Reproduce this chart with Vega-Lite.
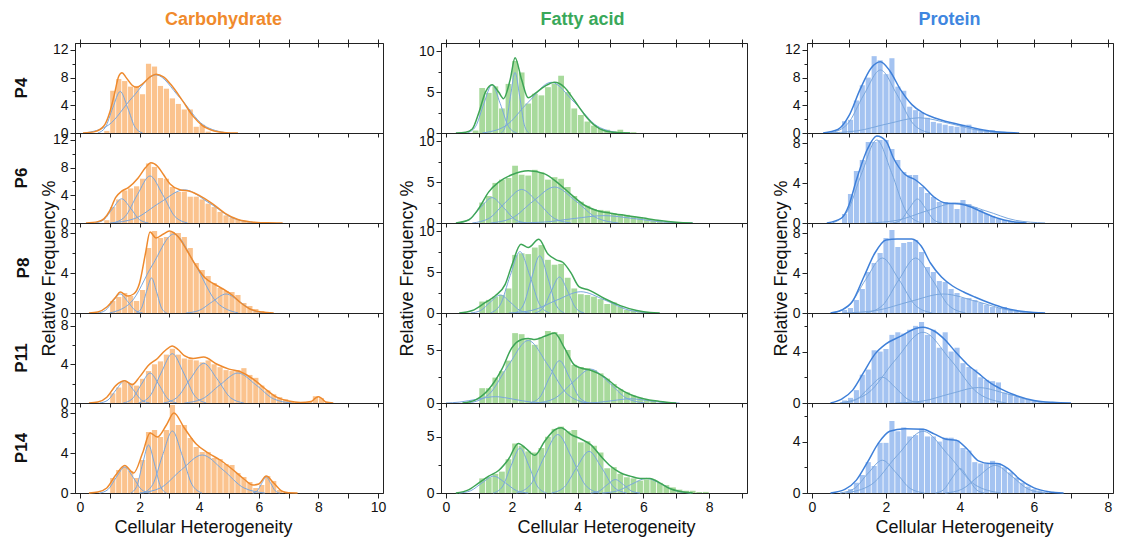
{
"$schema":"https://vega.github.io/schema/vega-lite/v6.json",
"background":"white",
"padding":{"left":12,"top":10,"right":0,"bottom":0},
"autosize":{"type":"pad"},
"columns":3,
"spacing":{"row":0,"column":58},
"bounds":"flush",
"align":"all",
"datasets":{
"C4":[{"k":"b","x":0.9,"y":0.3},{"k":"b","x":1.1,"y":6.1},{"k":"b","x":1.3,"y":7.8},{"k":"b","x":1.5,"y":7.5},{"k":"b","x":1.7,"y":6.7},{"k":"b","x":1.9,"y":6.8},{"k":"b","x":2.1,"y":5.6},{"k":"b","x":2.3,"y":10.0},{"k":"b","x":2.5,"y":9.6},{"k":"b","x":2.7,"y":6.8},{"k":"b","x":2.9,"y":6.4},{"k":"b","x":3.1,"y":5.0},{"k":"b","x":3.3,"y":4.2},{"k":"b","x":3.5,"y":3.4},{"k":"b","x":3.7,"y":3.4},{"k":"b","x":3.9,"y":0.9},{"k":"b","x":4.1,"y":1.2},{"k":"b","x":4.3,"y":0.2},
{"k":"f","x":0.1,"y":0},{"k":"f","x":0.5,"y":0.2},{"k":"f","x":0.8,"y":1.0},{"k":"f","x":1.0,"y":3.0},{"k":"f","x":1.15,"y":5.5},{"k":"f","x":1.3,"y":8.2},{"k":"f","x":1.41,"y":8.7},{"k":"f","x":1.55,"y":8.0},{"k":"f","x":1.75,"y":6.9},{"k":"f","x":1.9,"y":6.6},{"k":"f","x":2.1,"y":7.1},{"k":"f","x":2.35,"y":8.1},{"k":"f","x":2.55,"y":8.5},{"k":"f","x":2.8,"y":8.1},{"k":"f","x":3.05,"y":7.0},{"k":"f","x":3.45,"y":4.6},{"k":"f","x":3.8,"y":2.4},{"k":"f","x":4.1,"y":1.1},{"k":"f","x":4.5,"y":0.3},{"k":"f","x":4.9,"y":0.05},{"k":"f","x":5.3,"y":0},
{"k":"c1","x":0.6,"y":0},{"k":"c1","x":0.85,"y":0.81},{"k":"c1","x":1.1,"y":3.64},{"k":"c1","x":1.35,"y":6},{"k":"c1","x":1.6,"y":3.64},{"k":"c1","x":1.85,"y":0.81},{"k":"c1","x":2.1,"y":0},
{"k":"c2","x":0.15,"y":0},{"k":"c2","x":0.95,"y":1.13},{"k":"c2","x":1.75,"y":5.1},{"k":"c2","x":2.55,"y":8.4},{"k":"c2","x":3.35,"y":5.1},{"k":"c2","x":4.15,"y":1.13},{"k":"c2","x":4.95,"y":0}],
"C6":[{"k":"b","x":0.9,"y":0.4},{"k":"b","x":1.1,"y":2.3},{"k":"b","x":1.3,"y":3.4},{"k":"b","x":1.5,"y":4.7},{"k":"b","x":1.7,"y":5.0},{"k":"b","x":1.9,"y":5.3},{"k":"b","x":2.1,"y":6.4},{"k":"b","x":2.3,"y":8.6},{"k":"b","x":2.5,"y":8.1},{"k":"b","x":2.7,"y":6.5},{"k":"b","x":2.9,"y":6.4},{"k":"b","x":3.1,"y":5.2},{"k":"b","x":3.3,"y":4.5},{"k":"b","x":3.5,"y":4.5},{"k":"b","x":3.7,"y":3.8},{"k":"b","x":3.9,"y":3.8},{"k":"b","x":4.1,"y":3.4},{"k":"b","x":4.3,"y":2.8},{"k":"b","x":4.5,"y":2.3},{"k":"b","x":4.7,"y":1.6},{"k":"b","x":4.9,"y":1.1},{"k":"b","x":5.1,"y":0.8},{"k":"b","x":5.3,"y":0.5},{"k":"b","x":5.5,"y":0.3},{"k":"b","x":5.7,"y":0.2},
{"k":"f","x":0.2,"y":0},{"k":"f","x":0.6,"y":0.2},{"k":"f","x":0.8,"y":0.6},{"k":"f","x":1.0,"y":1.8},{"k":"f","x":1.2,"y":3.7},{"k":"f","x":1.4,"y":4.6},{"k":"f","x":1.62,"y":5.1},{"k":"f","x":1.95,"y":6.5},{"k":"f","x":2.2,"y":8.0},{"k":"f","x":2.38,"y":8.7},{"k":"f","x":2.6,"y":8.2},{"k":"f","x":2.8,"y":7.0},{"k":"f","x":3.03,"y":5.6},{"k":"f","x":3.35,"y":4.8},{"k":"f","x":3.68,"y":4.6},{"k":"f","x":4.0,"y":4.0},{"k":"f","x":4.44,"y":2.8},{"k":"f","x":4.87,"y":1.4},{"k":"f","x":5.3,"y":0.5},{"k":"f","x":5.75,"y":0.15},{"k":"f","x":6.3,"y":0.02},{"k":"f","x":6.8,"y":0},
{"k":"c1","x":0.5,"y":0},{"k":"c1","x":0.8,"y":0.47},{"k":"c1","x":1.1,"y":2.12},{"k":"c1","x":1.4,"y":3.5},{"k":"c1","x":1.7,"y":2.12},{"k":"c1","x":2.0,"y":0.47},{"k":"c1","x":2.3,"y":0},
{"k":"c2","x":1.09,"y":0},{"k":"c2","x":1.51,"y":0.92},{"k":"c2","x":1.93,"y":4.13},{"k":"c2","x":2.35,"y":6.8},{"k":"c2","x":2.77,"y":4.13},{"k":"c2","x":3.19,"y":0.92},{"k":"c2","x":3.61,"y":0},
{"k":"c3","x":1.01,"y":0},{"k":"c3","x":1.84,"y":0.65},{"k":"c3","x":2.67,"y":2.91},{"k":"c3","x":3.5,"y":4.8},{"k":"c3","x":4.33,"y":2.91},{"k":"c3","x":5.16,"y":0.65},{"k":"c3","x":5.99,"y":0}],
"C8":[{"k":"b","x":1.1,"y":1.2},{"k":"b","x":1.3,"y":1.6},{"k":"b","x":1.5,"y":2.0},{"k":"b","x":1.7,"y":1.7},{"k":"b","x":1.9,"y":1.2},{"k":"b","x":2.1,"y":2.3},{"k":"b","x":2.3,"y":6.5},{"k":"b","x":2.5,"y":8.2},{"k":"b","x":2.7,"y":7.5},{"k":"b","x":2.9,"y":7.6},{"k":"b","x":3.1,"y":8.1},{"k":"b","x":3.3,"y":8.0},{"k":"b","x":3.5,"y":7.6},{"k":"b","x":3.7,"y":6.5},{"k":"b","x":3.9,"y":5.0},{"k":"b","x":4.1,"y":4.3},{"k":"b","x":4.3,"y":3.7},{"k":"b","x":4.5,"y":3.0},{"k":"b","x":4.7,"y":2.5},{"k":"b","x":4.9,"y":2.2},{"k":"b","x":5.1,"y":2.1},{"k":"b","x":5.3,"y":1.8},{"k":"b","x":5.5,"y":1.0},{"k":"b","x":5.7,"y":0.7},{"k":"b","x":5.9,"y":0.4},{"k":"b","x":6.1,"y":0.2},
{"k":"f","x":0.3,"y":0},{"k":"f","x":0.6,"y":0.1},{"k":"f","x":0.9,"y":0.6},{"k":"f","x":1.2,"y":1.6},{"k":"f","x":1.35,"y":2.1},{"k":"f","x":1.6,"y":1.7},{"k":"f","x":1.8,"y":1.9},{"k":"f","x":2.0,"y":3.0},{"k":"f","x":2.2,"y":6.0},{"k":"f","x":2.35,"y":8.1},{"k":"f","x":2.55,"y":7.5},{"k":"f","x":2.8,"y":7.9},{"k":"f","x":3.0,"y":8.2},{"k":"f","x":3.3,"y":7.6},{"k":"f","x":3.6,"y":6.2},{"k":"f","x":3.9,"y":4.7},{"k":"f","x":4.2,"y":3.5},{"k":"f","x":4.5,"y":2.9},{"k":"f","x":4.8,"y":2.4},{"k":"f","x":5.1,"y":1.8},{"k":"f","x":5.4,"y":1.0},{"k":"f","x":5.7,"y":0.4},{"k":"f","x":6.1,"y":0.1},{"k":"f","x":6.5,"y":0},
{"k":"c1","x":0.6,"y":0},{"k":"c1","x":0.85,"y":0.26},{"k":"c1","x":1.1,"y":1.15},{"k":"c1","x":1.35,"y":1.9},{"k":"c1","x":1.6,"y":1.15},{"k":"c1","x":1.85,"y":0.26},{"k":"c1","x":2.1,"y":0},
{"k":"c2","x":1.89,"y":0},{"k":"c2","x":2.06,"y":0.47},{"k":"c2","x":2.23,"y":2.12},{"k":"c2","x":2.4,"y":3.5},{"k":"c2","x":2.57,"y":2.12},{"k":"c2","x":2.74,"y":0.47},{"k":"c2","x":2.91,"y":0},
{"k":"c3","x":0.99,"y":0},{"k":"c3","x":1.71,"y":1.07},{"k":"c3","x":2.43,"y":4.8},{"k":"c3","x":3.15,"y":7.9},{"k":"c3","x":3.87,"y":4.8},{"k":"c3","x":4.59,"y":1.07},{"k":"c3","x":5.31,"y":0},
{"k":"c4","x":3.55,"y":0},{"k":"c4","x":4.0,"y":0.26},{"k":"c4","x":4.45,"y":1.15},{"k":"c4","x":4.9,"y":1.9},{"k":"c4","x":5.35,"y":1.15},{"k":"c4","x":5.8,"y":0.26},{"k":"c4","x":6.25,"y":0}],
"C11":[{"k":"b","x":1.1,"y":1.0},{"k":"b","x":1.3,"y":1.6},{"k":"b","x":1.5,"y":2.2},{"k":"b","x":1.7,"y":2.0},{"k":"b","x":1.9,"y":1.8},{"k":"b","x":2.1,"y":2.5},{"k":"b","x":2.3,"y":3.3},{"k":"b","x":2.5,"y":4.0},{"k":"b","x":2.7,"y":4.3},{"k":"b","x":2.9,"y":5.0},{"k":"b","x":3.1,"y":5.6},{"k":"b","x":3.3,"y":5.0},{"k":"b","x":3.5,"y":4.6},{"k":"b","x":3.7,"y":4.5},{"k":"b","x":3.9,"y":4.4},{"k":"b","x":4.1,"y":4.2},{"k":"b","x":4.3,"y":4.4},{"k":"b","x":4.5,"y":4.0},{"k":"b","x":4.7,"y":3.7},{"k":"b","x":4.9,"y":3.4},{"k":"b","x":5.1,"y":3.3},{"k":"b","x":5.3,"y":3.4},{"k":"b","x":5.5,"y":3.6},{"k":"b","x":5.7,"y":2.9},{"k":"b","x":5.9,"y":2.6},{"k":"b","x":6.1,"y":1.8},{"k":"b","x":6.3,"y":1.3},{"k":"b","x":6.5,"y":0.9},{"k":"b","x":6.7,"y":0.6},{"k":"b","x":6.9,"y":0.4},{"k":"b","x":7.1,"y":0.2},{"k":"b","x":7.3,"y":0.1},{"k":"b","x":7.5,"y":0.1},{"k":"b","x":7.7,"y":0.1},{"k":"b","x":7.9,"y":0.7},{"k":"b","x":8.1,"y":0.5},{"k":"b","x":8.3,"y":0.1},
{"k":"f","x":0.3,"y":0},{"k":"f","x":0.6,"y":0.1},{"k":"f","x":0.9,"y":0.6},{"k":"f","x":1.2,"y":1.8},{"k":"f","x":1.5,"y":2.3},{"k":"f","x":1.75,"y":1.9},{"k":"f","x":2.0,"y":2.7},{"k":"f","x":2.3,"y":3.9},{"k":"f","x":2.6,"y":4.6},{"k":"f","x":2.85,"y":5.4},{"k":"f","x":3.1,"y":5.9},{"k":"f","x":3.3,"y":5.5},{"k":"f","x":3.5,"y":4.9},{"k":"f","x":3.8,"y":4.6},{"k":"f","x":4.15,"y":4.75},{"k":"f","x":4.6,"y":4.0},{"k":"f","x":5.0,"y":3.5},{"k":"f","x":5.4,"y":3.2},{"k":"f","x":5.8,"y":2.5},{"k":"f","x":6.2,"y":1.5},{"k":"f","x":6.6,"y":0.6},{"k":"f","x":7.0,"y":0.2},{"k":"f","x":7.4,"y":0.05},{"k":"f","x":7.75,"y":0.15},{"k":"f","x":7.9,"y":0.5},{"k":"f","x":8.0,"y":0.65},{"k":"f","x":8.1,"y":0.5},{"k":"f","x":8.25,"y":0.1},{"k":"f","x":8.5,"y":0},
{"k":"c1","x":0.66,"y":0},{"k":"c1","x":0.94,"y":0.31},{"k":"c1","x":1.22,"y":1.4},{"k":"c1","x":1.5,"y":2.3},{"k":"c1","x":1.78,"y":1.4},{"k":"c1","x":2.06,"y":0.31},{"k":"c1","x":2.34,"y":0},
{"k":"c2","x":1.45,"y":0},{"k":"c2","x":1.75,"y":0.42},{"k":"c2","x":2.05,"y":1.88},{"k":"c2","x":2.35,"y":3.1},{"k":"c2","x":2.65,"y":1.88},{"k":"c2","x":2.95,"y":0.42},{"k":"c2","x":3.25,"y":0},
{"k":"c3","x":1.96,"y":0},{"k":"c3","x":2.34,"y":0.69},{"k":"c3","x":2.72,"y":3.1},{"k":"c3","x":3.1,"y":5.1},{"k":"c3","x":3.48,"y":3.1},{"k":"c3","x":3.86,"y":0.69},{"k":"c3","x":4.24,"y":0},
{"k":"c4","x":2.8,"y":0},{"k":"c4","x":3.25,"y":0.55},{"k":"c4","x":3.7,"y":2.49},{"k":"c4","x":4.15,"y":4.1},{"k":"c4","x":4.6,"y":2.49},{"k":"c4","x":5.05,"y":0.55},{"k":"c4","x":5.5,"y":0},
{"k":"c5","x":3.5,"y":0},{"k":"c5","x":4.1,"y":0.42},{"k":"c5","x":4.7,"y":1.88},{"k":"c5","x":5.3,"y":3.1},{"k":"c5","x":5.9,"y":1.88},{"k":"c5","x":6.5,"y":0.42},{"k":"c5","x":7.1,"y":0}],
"C14":[{"k":"b","x":1.1,"y":1.5},{"k":"b","x":1.3,"y":2.3},{"k":"b","x":1.5,"y":2.6},{"k":"b","x":1.7,"y":2.2},{"k":"b","x":1.9,"y":1.5},{"k":"b","x":2.1,"y":3.3},{"k":"b","x":2.3,"y":6.1},{"k":"b","x":2.5,"y":6.3},{"k":"b","x":2.7,"y":5.6},{"k":"b","x":2.9,"y":6.3},{"k":"b","x":3.1,"y":8.8},{"k":"b","x":3.3,"y":6.8},{"k":"b","x":3.5,"y":6.8},{"k":"b","x":3.7,"y":5.5},{"k":"b","x":3.9,"y":4.6},{"k":"b","x":4.1,"y":4.1},{"k":"b","x":4.3,"y":4.1},{"k":"b","x":4.5,"y":3.5},{"k":"b","x":4.7,"y":3.4},{"k":"b","x":4.9,"y":2.9},{"k":"b","x":5.1,"y":2.8},{"k":"b","x":5.3,"y":2.0},{"k":"b","x":5.5,"y":1.6},{"k":"b","x":5.7,"y":1.1},{"k":"b","x":5.9,"y":0.5},{"k":"b","x":6.1,"y":0.8},{"k":"b","x":6.3,"y":1.7},{"k":"b","x":6.5,"y":1.2},{"k":"b","x":6.7,"y":0.3},
{"k":"f","x":0.3,"y":0},{"k":"f","x":0.6,"y":0.1},{"k":"f","x":0.9,"y":0.5},{"k":"f","x":1.2,"y":1.8},{"k":"f","x":1.5,"y":2.75},{"k":"f","x":1.8,"y":2.0},{"k":"f","x":2.1,"y":4.0},{"k":"f","x":2.35,"y":6.0},{"k":"f","x":2.6,"y":5.6},{"k":"f","x":2.9,"y":6.8},{"k":"f","x":3.15,"y":8.0},{"k":"f","x":3.5,"y":6.5},{"k":"f","x":3.9,"y":4.9},{"k":"f","x":4.3,"y":4.0},{"k":"f","x":4.7,"y":3.3},{"k":"f","x":5.1,"y":2.4},{"k":"f","x":5.5,"y":1.4},{"k":"f","x":5.8,"y":0.8},{"k":"f","x":6.0,"y":0.9},{"k":"f","x":6.25,"y":1.7},{"k":"f","x":6.5,"y":1.0},{"k":"f","x":6.8,"y":0.15},{"k":"f","x":7.0,"y":0.02},{"k":"f","x":7.3,"y":0},
{"k":"c1","x":0.66,"y":0},{"k":"c1","x":0.94,"y":0.35},{"k":"c1","x":1.22,"y":1.58},{"k":"c1","x":1.5,"y":2.6},{"k":"c1","x":1.78,"y":1.58},{"k":"c1","x":2.06,"y":0.35},{"k":"c1","x":2.34,"y":0},
{"k":"c2","x":1.7,"y":0},{"k":"c2","x":1.9,"y":0.65},{"k":"c2","x":2.1,"y":2.91},{"k":"c2","x":2.3,"y":4.8},{"k":"c2","x":2.5,"y":2.91},{"k":"c2","x":2.7,"y":0.65},{"k":"c2","x":2.9,"y":0},
{"k":"c3","x":2.11,"y":0},{"k":"c3","x":2.44,"y":0.84},{"k":"c3","x":2.77,"y":3.76},{"k":"c3","x":3.1,"y":6.2},{"k":"c3","x":3.43,"y":3.76},{"k":"c3","x":3.76,"y":0.84},{"k":"c3","x":4.09,"y":0},
{"k":"c4","x":2.0,"y":0},{"k":"c4","x":2.7,"y":0.51},{"k":"c4","x":3.4,"y":2.31},{"k":"c4","x":4.1,"y":3.8},{"k":"c4","x":4.8,"y":2.31},{"k":"c4","x":5.5,"y":0.51},{"k":"c4","x":6.2,"y":0},
{"k":"c5","x":5.8,"y":0},{"k":"c5","x":5.95,"y":0.22},{"k":"c5","x":6.1,"y":0.97},{"k":"c5","x":6.25,"y":1.6},{"k":"c5","x":6.4,"y":0.97},{"k":"c5","x":6.55,"y":0.22},{"k":"c5","x":6.7,"y":0}],
"F4":[{"k":"b","x":0.9,"y":0.3},{"k":"b","x":1.1,"y":5.5},{"k":"b","x":1.3,"y":4.9},{"k":"b","x":1.5,"y":5.7},{"k":"b","x":1.7,"y":3.0},{"k":"b","x":1.9,"y":6.0},{"k":"b","x":2.1,"y":8.8},{"k":"b","x":2.3,"y":7.4},{"k":"b","x":2.5,"y":3.6},{"k":"b","x":2.7,"y":4.8},{"k":"b","x":2.9,"y":4.6},{"k":"b","x":3.1,"y":5.6},{"k":"b","x":3.3,"y":6.0},{"k":"b","x":3.5,"y":7.0},{"k":"b","x":3.7,"y":5.0},{"k":"b","x":3.9,"y":3.0},{"k":"b","x":4.1,"y":2.2},{"k":"b","x":4.3,"y":1.4},{"k":"b","x":4.5,"y":0.9},{"k":"b","x":4.7,"y":0.5},{"k":"b","x":4.9,"y":0.4},{"k":"b","x":5.1,"y":0.2},{"k":"b","x":5.3,"y":0.4},{"k":"b","x":5.5,"y":0.1},{"k":"b","x":5.7,"y":0.1},
{"k":"f","x":0.3,"y":0},{"k":"f","x":0.6,"y":0.1},{"k":"f","x":0.8,"y":0.5},{"k":"f","x":1.0,"y":2.5},{"k":"f","x":1.2,"y":5.0},{"k":"f","x":1.4,"y":5.9},{"k":"f","x":1.6,"y":5.0},{"k":"f","x":1.75,"y":4.2},{"k":"f","x":1.95,"y":6.5},{"k":"f","x":2.1,"y":9.2},{"k":"f","x":2.3,"y":6.5},{"k":"f","x":2.5,"y":4.3},{"k":"f","x":2.7,"y":4.8},{"k":"f","x":3.0,"y":5.7},{"k":"f","x":3.3,"y":6.2},{"k":"f","x":3.6,"y":5.6},{"k":"f","x":3.9,"y":4.0},{"k":"f","x":4.2,"y":2.3},{"k":"f","x":4.5,"y":1.0},{"k":"f","x":4.8,"y":0.3},{"k":"f","x":5.2,"y":0.05},{"k":"f","x":5.6,"y":0},
{"k":"c1","x":0.65,"y":0},{"k":"c1","x":0.9,"y":0.8},{"k":"c1","x":1.15,"y":3.58},{"k":"c1","x":1.4,"y":5.9},{"k":"c1","x":1.65,"y":3.58},{"k":"c1","x":1.9,"y":0.8},{"k":"c1","x":2.15,"y":0},
{"k":"c2","x":1.68,"y":0},{"k":"c2","x":1.82,"y":1.0},{"k":"c2","x":1.96,"y":4.49},{"k":"c2","x":2.1,"y":7.4},{"k":"c2","x":2.24,"y":4.49},{"k":"c2","x":2.38,"y":1.0},{"k":"c2","x":2.52,"y":0},
{"k":"c3","x":1.1,"y":0},{"k":"c3","x":1.8,"y":0.84},{"k":"c3","x":2.5,"y":3.76},{"k":"c3","x":3.2,"y":6.2},{"k":"c3","x":3.9,"y":3.76},{"k":"c3","x":4.6,"y":0.84},{"k":"c3","x":5.3,"y":0}],
"F6":[{"k":"b","x":1.1,"y":2.5},{"k":"b","x":1.3,"y":3.3},{"k":"b","x":1.5,"y":4.9},{"k":"b","x":1.7,"y":5.3},{"k":"b","x":1.9,"y":5.5},{"k":"b","x":2.1,"y":7.0},{"k":"b","x":2.3,"y":5.9},{"k":"b","x":2.5,"y":5.8},{"k":"b","x":2.7,"y":6.5},{"k":"b","x":2.9,"y":6.2},{"k":"b","x":3.1,"y":5.3},{"k":"b","x":3.3,"y":5.6},{"k":"b","x":3.5,"y":5.4},{"k":"b","x":3.7,"y":4.4},{"k":"b","x":3.9,"y":3.3},{"k":"b","x":4.1,"y":2.6},{"k":"b","x":4.3,"y":2.1},{"k":"b","x":4.5,"y":1.7},{"k":"b","x":4.7,"y":1.6},{"k":"b","x":4.9,"y":1.5},{"k":"b","x":5.1,"y":1.2},{"k":"b","x":5.3,"y":1.1},{"k":"b","x":5.5,"y":1.0},{"k":"b","x":5.7,"y":0.8},{"k":"b","x":5.9,"y":0.7},{"k":"b","x":6.1,"y":0.5},{"k":"b","x":6.3,"y":0.3},{"k":"b","x":6.5,"y":0.2},{"k":"b","x":6.7,"y":0.1},
{"k":"f","x":0.3,"y":0},{"k":"f","x":0.7,"y":0.4},{"k":"f","x":1.0,"y":1.8},{"k":"f","x":1.3,"y":3.8},{"k":"f","x":1.6,"y":5.0},{"k":"f","x":2.0,"y":5.9},{"k":"f","x":2.5,"y":6.4},{"k":"f","x":3.0,"y":6.0},{"k":"f","x":3.4,"y":4.9},{"k":"f","x":3.8,"y":3.5},{"k":"f","x":4.2,"y":2.2},{"k":"f","x":4.6,"y":1.5},{"k":"f","x":5.0,"y":1.2},{"k":"f","x":5.5,"y":0.9},{"k":"f","x":6.0,"y":0.6},{"k":"f","x":6.5,"y":0.3},{"k":"f","x":7.0,"y":0.1},{"k":"f","x":7.5,"y":0},
{"k":"c1","x":0.35,"y":0},{"k":"c1","x":0.7,"y":0.42},{"k":"c1","x":1.05,"y":1.88},{"k":"c1","x":1.4,"y":3.1},{"k":"c1","x":1.75,"y":1.88},{"k":"c1","x":2.1,"y":0.42},{"k":"c1","x":2.45,"y":0},
{"k":"c2","x":0.8,"y":0},{"k":"c2","x":1.3,"y":0.55},{"k":"c2","x":1.8,"y":2.49},{"k":"c2","x":2.3,"y":4.1},{"k":"c2","x":2.8,"y":2.49},{"k":"c2","x":3.3,"y":0.55},{"k":"c2","x":3.8,"y":0},
{"k":"c3","x":1.35,"y":0},{"k":"c3","x":2.0,"y":0.59},{"k":"c3","x":2.65,"y":2.67},{"k":"c3","x":3.3,"y":4.4},{"k":"c3","x":3.95,"y":2.67},{"k":"c3","x":4.6,"y":0.59},{"k":"c3","x":5.25,"y":0},
{"k":"c4","x":2.1,"y":0},{"k":"c4","x":3.0,"y":0.12},{"k":"c4","x":3.9,"y":0.55},{"k":"c4","x":4.8,"y":0.9},{"k":"c4","x":5.7,"y":0.55},{"k":"c4","x":6.6,"y":0.12},{"k":"c4","x":7.5,"y":0}],
"F8":[{"k":"b","x":1.1,"y":1.4},{"k":"b","x":1.3,"y":1.6},{"k":"b","x":1.5,"y":2.0},{"k":"b","x":1.7,"y":2.2},{"k":"b","x":1.9,"y":3.0},{"k":"b","x":2.1,"y":7.1},{"k":"b","x":2.3,"y":7.3},{"k":"b","x":2.5,"y":7.2},{"k":"b","x":2.7,"y":8.0},{"k":"b","x":2.9,"y":8.3},{"k":"b","x":3.1,"y":6.5},{"k":"b","x":3.3,"y":5.9},{"k":"b","x":3.5,"y":6.0},{"k":"b","x":3.7,"y":4.3},{"k":"b","x":3.9,"y":3.0},{"k":"b","x":4.1,"y":2.3},{"k":"b","x":4.3,"y":2.2},{"k":"b","x":4.5,"y":2.0},{"k":"b","x":4.7,"y":1.7},{"k":"b","x":4.9,"y":1.1},{"k":"b","x":5.1,"y":1.3},{"k":"b","x":5.3,"y":0.8},{"k":"b","x":5.5,"y":0.4},{"k":"b","x":5.7,"y":0.3},{"k":"b","x":5.9,"y":0.1},
{"k":"f","x":0.4,"y":0},{"k":"f","x":0.8,"y":0.3},{"k":"f","x":1.2,"y":1.3},{"k":"f","x":1.5,"y":2.1},{"k":"f","x":1.8,"y":3.5},{"k":"f","x":2.0,"y":5.8},{"k":"f","x":2.28,"y":8.4},{"k":"f","x":2.5,"y":8.0},{"k":"f","x":2.82,"y":9.0},{"k":"f","x":3.1,"y":7.2},{"k":"f","x":3.35,"y":6.5},{"k":"f","x":3.55,"y":6.2},{"k":"f","x":3.8,"y":4.9},{"k":"f","x":4.05,"y":3.2},{"k":"f","x":4.35,"y":2.8},{"k":"f","x":4.8,"y":1.8},{"k":"f","x":5.3,"y":0.9},{"k":"f","x":5.8,"y":0.3},{"k":"f","x":6.2,"y":0.05},{"k":"f","x":6.5,"y":0},
{"k":"c1","x":0.75,"y":0},{"k":"c1","x":1.05,"y":0.3},{"k":"c1","x":1.35,"y":1.34},{"k":"c1","x":1.65,"y":2.2},{"k":"c1","x":1.95,"y":1.34},{"k":"c1","x":2.25,"y":0.3},{"k":"c1","x":2.55,"y":0},
{"k":"c2","x":1.35,"y":0},{"k":"c2","x":1.65,"y":1.01},{"k":"c2","x":1.95,"y":4.55},{"k":"c2","x":2.25,"y":7.5},{"k":"c2","x":2.55,"y":4.55},{"k":"c2","x":2.85,"y":1.01},{"k":"c2","x":3.15,"y":0},
{"k":"c3","x":2.1,"y":0},{"k":"c3","x":2.35,"y":0.95},{"k":"c3","x":2.6,"y":4.25},{"k":"c3","x":2.85,"y":7.0},{"k":"c3","x":3.1,"y":4.25},{"k":"c3","x":3.35,"y":0.95},{"k":"c3","x":3.6,"y":0},
{"k":"c4","x":2.7,"y":0},{"k":"c4","x":2.95,"y":0.59},{"k":"c4","x":3.2,"y":2.67},{"k":"c4","x":3.45,"y":4.4},{"k":"c4","x":3.7,"y":2.67},{"k":"c4","x":3.95,"y":0.59},{"k":"c4","x":4.2,"y":0},
{"k":"c5","x":1.91,"y":0},{"k":"c5","x":2.64,"y":0.35},{"k":"c5","x":3.37,"y":1.58},{"k":"c5","x":4.1,"y":2.6},{"k":"c5","x":4.83,"y":1.58},{"k":"c5","x":5.56,"y":0.35},{"k":"c5","x":6.29,"y":0}],
"F11":[{"k":"b","x":1.1,"y":1.4},{"k":"b","x":1.3,"y":1.4},{"k":"b","x":1.5,"y":2.4},{"k":"b","x":1.7,"y":3.0},{"k":"b","x":1.9,"y":4.0},{"k":"b","x":2.1,"y":6.6},{"k":"b","x":2.3,"y":6.5},{"k":"b","x":2.5,"y":6.0},{"k":"b","x":2.7,"y":5.5},{"k":"b","x":2.9,"y":6.2},{"k":"b","x":3.1,"y":6.8},{"k":"b","x":3.3,"y":6.7},{"k":"b","x":3.5,"y":6.5},{"k":"b","x":3.7,"y":5.0},{"k":"b","x":3.9,"y":3.6},{"k":"b","x":4.1,"y":3.4},{"k":"b","x":4.3,"y":3.3},{"k":"b","x":4.5,"y":3.1},{"k":"b","x":4.7,"y":2.8},{"k":"b","x":4.9,"y":2.3},{"k":"b","x":5.1,"y":1.8},{"k":"b","x":5.3,"y":1.3},{"k":"b","x":5.5,"y":1.0},{"k":"b","x":5.7,"y":0.7},{"k":"b","x":5.9,"y":0.5},{"k":"b","x":6.1,"y":0.3},{"k":"b","x":6.3,"y":0.2},
{"k":"f","x":0.5,"y":0},{"k":"f","x":0.9,"y":0.3},{"k":"f","x":1.3,"y":1.3},{"k":"f","x":1.7,"y":3.2},{"k":"f","x":2.0,"y":5.2},{"k":"f","x":2.3,"y":6.0},{"k":"f","x":2.5,"y":6.1},{"k":"f","x":2.7,"y":6.0},{"k":"f","x":3.0,"y":6.3},{"k":"f","x":3.3,"y":6.6},{"k":"f","x":3.6,"y":5.2},{"k":"f","x":3.9,"y":3.6},{"k":"f","x":4.1,"y":3.3},{"k":"f","x":4.4,"y":3.1},{"k":"f","x":4.8,"y":2.5},{"k":"f","x":5.2,"y":1.5},{"k":"f","x":5.6,"y":0.8},{"k":"f","x":6.0,"y":0.4},{"k":"f","x":6.5,"y":0.15},{"k":"f","x":7.0,"y":0},
{"k":"c1","x":0,"y":0},{"k":"c1","x":0.4,"y":0.08},{"k":"c1","x":0.95,"y":0.36},{"k":"c1","x":1.5,"y":0.6},{"k":"c1","x":2.05,"y":0.36},{"k":"c1","x":2.6,"y":0.08},{"k":"c1","x":3.15,"y":0},
{"k":"c2","x":0.7,"y":0},{"k":"c2","x":1.3,"y":0.8},{"k":"c2","x":1.9,"y":3.58},{"k":"c2","x":2.5,"y":5.9},{"k":"c2","x":3.1,"y":3.58},{"k":"c2","x":3.7,"y":0.8},{"k":"c2","x":4.3,"y":0},
{"k":"c3","x":2.55,"y":0},{"k":"c3","x":2.85,"y":0.54},{"k":"c3","x":3.15,"y":2.43},{"k":"c3","x":3.45,"y":4.0},{"k":"c3","x":3.75,"y":2.43},{"k":"c3","x":4.05,"y":0.54},{"k":"c3","x":4.35,"y":0},
{"k":"c4","x":2.75,"y":0},{"k":"c4","x":3.3,"y":0.43},{"k":"c4","x":3.85,"y":1.94},{"k":"c4","x":4.4,"y":3.2},{"k":"c4","x":4.95,"y":1.94},{"k":"c4","x":5.5,"y":0.43},{"k":"c4","x":6.05,"y":0},
{"k":"c5","x":4.1,"y":0},{"k":"c5","x":4.6,"y":0.05},{"k":"c5","x":5.1,"y":0.24},{"k":"c5","x":5.6,"y":0.4},{"k":"c5","x":6.1,"y":0.24},{"k":"c5","x":6.6,"y":0.05},{"k":"c5","x":7.1,"y":0}],
"F14":[{"k":"b","x":1.1,"y":1.3},{"k":"b","x":1.3,"y":1.4},{"k":"b","x":1.5,"y":1.7},{"k":"b","x":1.7,"y":1.9},{"k":"b","x":1.9,"y":3.0},{"k":"b","x":2.1,"y":4.4},{"k":"b","x":2.3,"y":4.2},{"k":"b","x":2.5,"y":3.7},{"k":"b","x":2.7,"y":3.6},{"k":"b","x":2.9,"y":4.0},{"k":"b","x":3.1,"y":5.0},{"k":"b","x":3.3,"y":5.7},{"k":"b","x":3.5,"y":5.9},{"k":"b","x":3.7,"y":5.5},{"k":"b","x":3.9,"y":5.6},{"k":"b","x":4.1,"y":4.5},{"k":"b","x":4.3,"y":4.6},{"k":"b","x":4.5,"y":4.2},{"k":"b","x":4.7,"y":3.6},{"k":"b","x":4.9,"y":2.2},{"k":"b","x":5.1,"y":2.3},{"k":"b","x":5.3,"y":1.7},{"k":"b","x":5.5,"y":1.4},{"k":"b","x":5.7,"y":1.3},{"k":"b","x":5.9,"y":1.1},{"k":"b","x":6.1,"y":1.2},{"k":"b","x":6.3,"y":1.2},{"k":"b","x":6.5,"y":0.9},{"k":"b","x":6.7,"y":0.7},{"k":"b","x":6.9,"y":0.5},{"k":"b","x":7.1,"y":0.3},{"k":"b","x":7.3,"y":0.2},{"k":"b","x":7.5,"y":0.2},{"k":"b","x":7.7,"y":0.1},{"k":"b","x":7.9,"y":0.1},
{"k":"f","x":0.3,"y":0},{"k":"f","x":0.7,"y":0.3},{"k":"f","x":1.0,"y":0.9},{"k":"f","x":1.3,"y":1.5},{"k":"f","x":1.6,"y":2.0},{"k":"f","x":1.9,"y":3.0},{"k":"f","x":2.2,"y":4.4},{"k":"f","x":2.45,"y":3.9},{"k":"f","x":2.7,"y":3.35},{"k":"f","x":3.0,"y":4.6},{"k":"f","x":3.3,"y":5.6},{"k":"f","x":3.5,"y":5.8},{"k":"f","x":3.8,"y":5.2},{"k":"f","x":4.1,"y":4.8},{"k":"f","x":4.4,"y":4.3},{"k":"f","x":4.7,"y":3.3},{"k":"f","x":5.0,"y":2.4},{"k":"f","x":5.3,"y":1.8},{"k":"f","x":5.6,"y":1.5},{"k":"f","x":5.9,"y":1.3},{"k":"f","x":6.2,"y":1.3},{"k":"f","x":6.5,"y":0.9},{"k":"f","x":6.8,"y":0.4},{"k":"f","x":7.1,"y":0.15},{"k":"f","x":7.5,"y":0},
{"k":"c1","x":0.4,"y":0},{"k":"c1","x":0.75,"y":0.2},{"k":"c1","x":1.1,"y":0.91},{"k":"c1","x":1.45,"y":1.5},{"k":"c1","x":1.8,"y":0.91},{"k":"c1","x":2.15,"y":0.2},{"k":"c1","x":2.5,"y":0},
{"k":"c2","x":1.44,"y":0},{"k":"c2","x":1.71,"y":0.54},{"k":"c2","x":1.98,"y":2.43},{"k":"c2","x":2.25,"y":4.0},{"k":"c2","x":2.52,"y":2.43},{"k":"c2","x":2.79,"y":0.54},{"k":"c2","x":3.06,"y":0},
{"k":"c3","x":2.14,"y":0},{"k":"c3","x":2.56,"y":0.7},{"k":"c3","x":2.98,"y":3.16},{"k":"c3","x":3.4,"y":5.2},{"k":"c3","x":3.82,"y":3.16},{"k":"c3","x":4.24,"y":0.7},{"k":"c3","x":4.66,"y":0},
{"k":"c4","x":3.21,"y":0},{"k":"c4","x":3.59,"y":0.5},{"k":"c4","x":3.97,"y":2.25},{"k":"c4","x":4.35,"y":3.7},{"k":"c4","x":4.73,"y":2.25},{"k":"c4","x":5.11,"y":0.5},{"k":"c4","x":5.49,"y":0},
{"k":"c5","x":4.4,"y":0},{"k":"c5","x":4.65,"y":0.16},{"k":"c5","x":4.9,"y":0.73},{"k":"c5","x":5.15,"y":1.2},{"k":"c5","x":5.4,"y":0.73},{"k":"c5","x":5.65,"y":0.16},{"k":"c5","x":5.9,"y":0},
{"k":"c6","x":4.75,"y":0},{"k":"c6","x":5.2,"y":0.18},{"k":"c6","x":5.65,"y":0.79},{"k":"c6","x":6.1,"y":1.3},{"k":"c6","x":6.55,"y":0.79},{"k":"c6","x":7.0,"y":0.18},{"k":"c6","x":7.45,"y":0}],
"R4":[{"k":"b","x":0.88,"y":1.7},{"k":"b","x":1.04,"y":1.9},{"k":"b","x":1.2,"y":4.7},{"k":"b","x":1.36,"y":6.9},{"k":"b","x":1.52,"y":8.0},{"k":"b","x":1.68,"y":11.1},{"k":"b","x":1.84,"y":10.5},{"k":"b","x":2.0,"y":8.5},{"k":"b","x":2.16,"y":10.8},{"k":"b","x":2.32,"y":6.7},{"k":"b","x":2.48,"y":6.1},{"k":"b","x":2.64,"y":3.8},{"k":"b","x":2.8,"y":3.3},{"k":"b","x":2.96,"y":3.0},{"k":"b","x":3.12,"y":2.2},{"k":"b","x":3.28,"y":1.6},{"k":"b","x":3.44,"y":1.4},{"k":"b","x":3.6,"y":1.2},{"k":"b","x":3.76,"y":1.0},{"k":"b","x":3.92,"y":0.9},{"k":"b","x":4.08,"y":1.2},{"k":"b","x":4.24,"y":1.2},{"k":"b","x":4.4,"y":0.6},{"k":"b","x":4.56,"y":0.5},{"k":"b","x":4.72,"y":0.3},{"k":"b","x":4.88,"y":0.4},{"k":"b","x":5.04,"y":0.1},
{"k":"f","x":0.3,"y":0},{"k":"f","x":0.7,"y":0.5},{"k":"f","x":1.0,"y":2.5},{"k":"f","x":1.3,"y":6.3},{"k":"f","x":1.6,"y":9.4},{"k":"f","x":1.85,"y":10.3},{"k":"f","x":2.1,"y":9.0},{"k":"f","x":2.4,"y":6.2},{"k":"f","x":2.7,"y":4.1},{"k":"f","x":3.0,"y":2.9},{"k":"f","x":3.3,"y":2.2},{"k":"f","x":3.6,"y":1.7},{"k":"f","x":4.0,"y":1.2},{"k":"f","x":4.4,"y":0.7},{"k":"f","x":4.8,"y":0.3},{"k":"f","x":5.2,"y":0.1},{"k":"f","x":5.6,"y":0},
{"k":"c1","x":0.5,"y":0},{"k":"c1","x":0.95,"y":1.23},{"k":"c1","x":1.4,"y":5.52},{"k":"c1","x":1.85,"y":9.1},{"k":"c1","x":2.3,"y":5.52},{"k":"c1","x":2.75,"y":1.23},{"k":"c1","x":3.2,"y":0},
{"k":"c2","x":0.35,"y":0},{"k":"c2","x":1.2,"y":0.3},{"k":"c2","x":2.05,"y":1.34},{"k":"c2","x":2.9,"y":2.2},{"k":"c2","x":3.75,"y":1.34},{"k":"c2","x":4.6,"y":0.3},{"k":"c2","x":5.45,"y":0}],
"R6":[{"k":"b","x":0.88,"y":0.9},{"k":"b","x":1.04,"y":2.9},{"k":"b","x":1.2,"y":5.2},{"k":"b","x":1.36,"y":6.3},{"k":"b","x":1.52,"y":8.1},{"k":"b","x":1.68,"y":8.1},{"k":"b","x":1.84,"y":8.3},{"k":"b","x":2.0,"y":8.3},{"k":"b","x":2.16,"y":7.4},{"k":"b","x":2.32,"y":6.3},{"k":"b","x":2.48,"y":5.1},{"k":"b","x":2.64,"y":4.8},{"k":"b","x":2.8,"y":4.8},{"k":"b","x":2.96,"y":3.6},{"k":"b","x":3.12,"y":3.0},{"k":"b","x":3.28,"y":2.6},{"k":"b","x":3.44,"y":2.1},{"k":"b","x":3.6,"y":2.1},{"k":"b","x":3.76,"y":1.9},{"k":"b","x":3.92,"y":1.4},{"k":"b","x":4.08,"y":2.3},{"k":"b","x":4.24,"y":1.9},{"k":"b","x":4.4,"y":1.6},{"k":"b","x":4.56,"y":1.3},{"k":"b","x":4.72,"y":0.9},{"k":"b","x":4.88,"y":0.7},{"k":"b","x":5.04,"y":0.4},{"k":"b","x":5.2,"y":0.3},{"k":"b","x":5.36,"y":0.2},{"k":"b","x":5.52,"y":0.1},
{"k":"f","x":0.4,"y":0},{"k":"f","x":0.8,"y":0.5},{"k":"f","x":1.0,"y":1.8},{"k":"f","x":1.2,"y":4.3},{"k":"f","x":1.5,"y":7.4},{"k":"f","x":1.75,"y":8.7},{"k":"f","x":2.0,"y":8.2},{"k":"f","x":2.2,"y":6.5},{"k":"f","x":2.5,"y":4.9},{"k":"f","x":2.8,"y":4.3},{"k":"f","x":3.0,"y":3.7},{"k":"f","x":3.3,"y":2.6},{"k":"f","x":3.6,"y":2.0},{"k":"f","x":4.0,"y":1.9},{"k":"f","x":4.3,"y":1.6},{"k":"f","x":4.6,"y":1.1},{"k":"f","x":5.0,"y":0.5},{"k":"f","x":5.4,"y":0.15},{"k":"f","x":5.8,"y":0},
{"k":"c1","x":0.55,"y":0},{"k":"c1","x":0.95,"y":1.12},{"k":"c1","x":1.35,"y":5.04},{"k":"c1","x":1.75,"y":8.3},{"k":"c1","x":2.15,"y":5.04},{"k":"c1","x":2.55,"y":1.12},{"k":"c1","x":2.95,"y":0},
{"k":"c2","x":2.19,"y":0},{"k":"c2","x":2.41,"y":0.32},{"k":"c2","x":2.63,"y":1.46},{"k":"c2","x":2.85,"y":2.4},{"k":"c2","x":3.07,"y":1.46},{"k":"c2","x":3.29,"y":0.32},{"k":"c2","x":3.51,"y":0},
{"k":"c3","x":1.5,"y":0},{"k":"c3","x":2.3,"y":0.27},{"k":"c3","x":3.1,"y":1.21},{"k":"c3","x":3.9,"y":2.0},{"k":"c3","x":4.7,"y":1.21},{"k":"c3","x":5.5,"y":0.27},{"k":"c3","x":6.3,"y":0}],
"R8":[{"k":"b","x":0.88,"y":0.3},{"k":"b","x":1.04,"y":0.5},{"k":"b","x":1.2,"y":1.3},{"k":"b","x":1.36,"y":2.4},{"k":"b","x":1.52,"y":4.1},{"k":"b","x":1.68,"y":5.0},{"k":"b","x":1.84,"y":6.0},{"k":"b","x":2.0,"y":7.5},{"k":"b","x":2.16,"y":8.3},{"k":"b","x":2.32,"y":6.6},{"k":"b","x":2.48,"y":7.0},{"k":"b","x":2.64,"y":7.1},{"k":"b","x":2.8,"y":7.3},{"k":"b","x":2.96,"y":6.1},{"k":"b","x":3.12,"y":4.6},{"k":"b","x":3.28,"y":4.1},{"k":"b","x":3.44,"y":3.2},{"k":"b","x":3.6,"y":3.1},{"k":"b","x":3.76,"y":2.4},{"k":"b","x":3.92,"y":2.0},{"k":"b","x":4.08,"y":1.5},{"k":"b","x":4.24,"y":1.5},{"k":"b","x":4.4,"y":1.3},{"k":"b","x":4.56,"y":1.0},{"k":"b","x":4.72,"y":0.8},{"k":"b","x":4.88,"y":0.6},{"k":"b","x":5.04,"y":0.5},{"k":"b","x":5.2,"y":0.6},{"k":"b","x":5.36,"y":0.3},{"k":"b","x":5.52,"y":0.2},{"k":"b","x":5.68,"y":0.1},
{"k":"f","x":0.5,"y":0},{"k":"f","x":0.8,"y":0.3},{"k":"f","x":1.1,"y":1.2},{"k":"f","x":1.4,"y":3.6},{"k":"f","x":1.7,"y":6.0},{"k":"f","x":2.0,"y":7.3},{"k":"f","x":2.3,"y":7.4},{"k":"f","x":2.7,"y":7.4},{"k":"f","x":2.95,"y":6.7},{"k":"f","x":3.2,"y":5.0},{"k":"f","x":3.5,"y":3.6},{"k":"f","x":3.8,"y":2.7},{"k":"f","x":4.1,"y":2.1},{"k":"f","x":4.4,"y":1.6},{"k":"f","x":4.8,"y":1.0},{"k":"f","x":5.2,"y":0.5},{"k":"f","x":5.6,"y":0.2},{"k":"f","x":6.0,"y":0.05},{"k":"f","x":6.3,"y":0},
{"k":"c1","x":0.55,"y":0},{"k":"c1","x":1.0,"y":0.74},{"k":"c1","x":1.45,"y":3.34},{"k":"c1","x":1.9,"y":5.5},{"k":"c1","x":2.35,"y":3.34},{"k":"c1","x":2.8,"y":0.74},{"k":"c1","x":3.25,"y":0},
{"k":"c2","x":1.45,"y":0},{"k":"c2","x":1.9,"y":0.74},{"k":"c2","x":2.35,"y":3.34},{"k":"c2","x":2.8,"y":5.5},{"k":"c2","x":3.25,"y":3.34},{"k":"c2","x":3.7,"y":0.74},{"k":"c2","x":4.15,"y":0},
{"k":"c3","x":0.85,"y":0},{"k":"c3","x":1.75,"y":0.26},{"k":"c3","x":2.65,"y":1.15},{"k":"c3","x":3.55,"y":1.9},{"k":"c3","x":4.45,"y":1.15},{"k":"c3","x":5.35,"y":0.26},{"k":"c3","x":6.25,"y":0}],
"R11":[{"k":"b","x":0.88,"y":0.2},{"k":"b","x":1.04,"y":0.4},{"k":"b","x":1.2,"y":1.0},{"k":"b","x":1.36,"y":2.2},{"k":"b","x":1.52,"y":2.6},{"k":"b","x":1.68,"y":4.1},{"k":"b","x":1.84,"y":4.0},{"k":"b","x":2.0,"y":4.2},{"k":"b","x":2.16,"y":5.3},{"k":"b","x":2.32,"y":5.5},{"k":"b","x":2.48,"y":5.4},{"k":"b","x":2.64,"y":5.7},{"k":"b","x":2.8,"y":6.0},{"k":"b","x":2.96,"y":6.3},{"k":"b","x":3.12,"y":5.3},{"k":"b","x":3.28,"y":5.7},{"k":"b","x":3.44,"y":4.3},{"k":"b","x":3.6,"y":5.5},{"k":"b","x":3.76,"y":4.0},{"k":"b","x":3.92,"y":4.3},{"k":"b","x":4.08,"y":3.1},{"k":"b","x":4.24,"y":2.8},{"k":"b","x":4.4,"y":2.6},{"k":"b","x":4.56,"y":2.0},{"k":"b","x":4.72,"y":1.8},{"k":"b","x":4.88,"y":1.7},{"k":"b","x":5.04,"y":1.6},{"k":"b","x":5.2,"y":0.8},{"k":"b","x":5.36,"y":0.7},{"k":"b","x":5.52,"y":0.5},{"k":"b","x":5.68,"y":0.4},{"k":"b","x":5.84,"y":0.3},{"k":"b","x":6.0,"y":0.15},{"k":"b","x":6.16,"y":0.1},
{"k":"f","x":0.5,"y":0},{"k":"f","x":0.8,"y":0.3},{"k":"f","x":1.1,"y":1.0},{"k":"f","x":1.4,"y":2.4},{"k":"f","x":1.7,"y":3.8},{"k":"f","x":2.0,"y":4.6},{"k":"f","x":2.4,"y":5.2},{"k":"f","x":2.8,"y":5.8},{"k":"f","x":3.0,"y":5.9},{"k":"f","x":3.3,"y":5.6},{"k":"f","x":3.6,"y":4.9},{"k":"f","x":3.9,"y":3.9},{"k":"f","x":4.2,"y":3.0},{"k":"f","x":4.5,"y":2.3},{"k":"f","x":4.8,"y":1.6},{"k":"f","x":5.1,"y":1.1},{"k":"f","x":5.5,"y":0.6},{"k":"f","x":6.0,"y":0.2},{"k":"f","x":6.5,"y":0.05},{"k":"f","x":7.0,"y":0},
{"k":"c1","x":0.85,"y":0},{"k":"c1","x":1.2,"y":0.27},{"k":"c1","x":1.55,"y":1.21},{"k":"c1","x":1.9,"y":2.0},{"k":"c1","x":2.25,"y":1.21},{"k":"c1","x":2.6,"y":0.27},{"k":"c1","x":2.95,"y":0},
{"k":"c2","x":0.75,"y":0},{"k":"c2","x":1.5,"y":0.74},{"k":"c2","x":2.25,"y":3.34},{"k":"c2","x":3.0,"y":5.5},{"k":"c2","x":3.75,"y":3.34},{"k":"c2","x":4.5,"y":0.74},{"k":"c2","x":5.25,"y":0},
{"k":"c3","x":2.25,"y":0},{"k":"c3","x":3.0,"y":0.16},{"k":"c3","x":3.75,"y":0.73},{"k":"c3","x":4.5,"y":1.2},{"k":"c3","x":5.25,"y":0.73},{"k":"c3","x":6.0,"y":0.16},{"k":"c3","x":6.75,"y":0}],
"R14":[{"k":"b","x":1.04,"y":0.3},{"k":"b","x":1.2,"y":0.8},{"k":"b","x":1.36,"y":1.4},{"k":"b","x":1.52,"y":2.4},{"k":"b","x":1.68,"y":2.1},{"k":"b","x":1.84,"y":3.9},{"k":"b","x":2.0,"y":3.9},{"k":"b","x":2.16,"y":5.6},{"k":"b","x":2.32,"y":4.8},{"k":"b","x":2.48,"y":5.1},{"k":"b","x":2.64,"y":4.4},{"k":"b","x":2.8,"y":4.5},{"k":"b","x":2.96,"y":5.0},{"k":"b","x":3.12,"y":4.4},{"k":"b","x":3.28,"y":4.4},{"k":"b","x":3.44,"y":4.0},{"k":"b","x":3.6,"y":4.3},{"k":"b","x":3.76,"y":4.3},{"k":"b","x":3.92,"y":4.1},{"k":"b","x":4.08,"y":3.5},{"k":"b","x":4.24,"y":3.3},{"k":"b","x":4.4,"y":2.4},{"k":"b","x":4.56,"y":2.3},{"k":"b","x":4.72,"y":2.3},{"k":"b","x":4.88,"y":2.5},{"k":"b","x":5.04,"y":2.3},{"k":"b","x":5.2,"y":2.0},{"k":"b","x":5.36,"y":1.6},{"k":"b","x":5.52,"y":1.2},{"k":"b","x":5.68,"y":0.8},{"k":"b","x":5.84,"y":0.5},{"k":"b","x":6.0,"y":0.3},{"k":"b","x":6.16,"y":0.2},{"k":"b","x":6.32,"y":0.1},{"k":"b","x":6.48,"y":0.1},
{"k":"f","x":0.5,"y":0},{"k":"f","x":0.9,"y":0.3},{"k":"f","x":1.2,"y":1.0},{"k":"f","x":1.5,"y":2.4},{"k":"f","x":1.8,"y":3.9},{"k":"f","x":2.1,"y":4.8},{"k":"f","x":2.5,"y":5.0},{"k":"f","x":3.0,"y":4.95},{"k":"f","x":3.3,"y":4.6},{"k":"f","x":3.6,"y":4.2},{"k":"f","x":3.9,"y":4.1},{"k":"f","x":4.2,"y":3.4},{"k":"f","x":4.5,"y":2.5},{"k":"f","x":4.8,"y":2.3},{"k":"f","x":5.0,"y":2.3},{"k":"f","x":5.3,"y":1.9},{"k":"f","x":5.6,"y":1.1},{"k":"f","x":6.0,"y":0.4},{"k":"f","x":6.4,"y":0.1},{"k":"f","x":6.8,"y":0},
{"k":"c1","x":0.76,"y":0},{"k":"c1","x":1.14,"y":0.34},{"k":"c1","x":1.52,"y":1.55},{"k":"c1","x":1.9,"y":2.55},{"k":"c1","x":2.28,"y":1.55},{"k":"c1","x":2.66,"y":0.34},{"k":"c1","x":3.04,"y":0},
{"k":"c2","x":0.9,"y":0},{"k":"c2","x":1.6,"y":0.65},{"k":"c2","x":2.3,"y":2.91},{"k":"c2","x":3.0,"y":4.8},{"k":"c2","x":3.7,"y":2.91},{"k":"c2","x":4.4,"y":0.65},{"k":"c2","x":5.1,"y":0},
{"k":"c3","x":3.34,"y":0},{"k":"c3","x":3.56,"y":0.26},{"k":"c3","x":3.78,"y":1.15},{"k":"c3","x":4.0,"y":1.9},{"k":"c3","x":4.22,"y":1.15},{"k":"c3","x":4.44,"y":0.26},{"k":"c3","x":4.66,"y":0},
{"k":"c4","x":3.6,"y":0},{"k":"c4","x":4.05,"y":0.29},{"k":"c4","x":4.5,"y":1.3},{"k":"c4","x":4.95,"y":2.15},{"k":"c4","x":5.4,"y":1.3},{"k":"c4","x":5.85,"y":0.29},{"k":"c4","x":6.3,"y":0}]
},
"concat":[
{"width":308,"height":90,"data":{"name":"C4"},"title":{"text":"P4","orient":"left","frame":"group","offset":21},"resolve":{"axis":{"x":"independent","y":"independent"}},
"encoding":{"x":{"field":"x","type":"quantitative","scale":{"domain":[0,10]},"axis":{"title":null,"labels":false,"values":[0,1,2,3,4,5,6,7,8,9,10],"tickSize":4}},"y":{"field":"y","type":"quantitative","scale":{"domain":[0,13]},"axis":{"title":null,"values":[0,4,8,12]}}},
"layer":[
{"transform":[{"filter":"datum.k=='b'"}],"mark":{"type":"bar","size":5.2,"color":"#FBC38E"}},
{"transform":[{"filter":"datum.k!='b'&&datum.k!='f'"}],"mark":{"type":"line","interpolate":"monotone","color":"#7AA7DE","strokeWidth":1},"encoding":{"detail":{"field":"k"},"y":{"field":"y","type":"quantitative","scale":{"domain":[0,13]},"axis":{"orient":"left","title":null,"labels":false,"domain":false,"values":[2,6,10],"tickSize":3}}}},
{"transform":[{"filter":"datum.k=='f'"}],"mark":{"type":"line","interpolate":"monotone","color":"#EE8A2E","strokeWidth":1.5},"encoding":{"y":{"field":"y","type":"quantitative","scale":{"domain":[0,13]},"axis":null},"x":{"field":"x","type":"quantitative","scale":{"domain":[0,10]},"axis":{"orient":"top","title":"Carbohydrate","labels":false,"domain":false,"values":[0,1,2,3,4,5,6,7,8,9,10],"tickSize":-4,"titleColor":"#F08A2C","titleFontWeight":"bold","titleX":148,"titlePadding":14}}}}
]},
{"width":306,"height":90,"data":{"name":"F4"},"resolve":{"axis":{"x":"independent","y":"independent"}},
"encoding":{"x":{"field":"x","type":"quantitative","scale":{"domain":[0,9]},"axis":{"title":null,"labels":false,"values":[0,1,2,3,4,5,6,7,8,9],"tickSize":4}},"y":{"field":"y","type":"quantitative","scale":{"domain":[0,11]},"axis":{"title":null,"values":[0,5,10]}}},
"layer":[
{"transform":[{"filter":"datum.k=='b'"}],"mark":{"type":"bar","size":5.8,"color":"#A8DA9C"}},
{"transform":[{"filter":"datum.k!='b'&&datum.k!='f'"}],"mark":{"type":"line","interpolate":"monotone","color":"#7AA7DE","strokeWidth":1},"encoding":{"detail":{"field":"k"},"y":{"field":"y","type":"quantitative","scale":{"domain":[0,11]},"axis":{"orient":"left","title":null,"labels":false,"domain":false,"values":[2.5,7.5],"tickSize":3}}}},
{"transform":[{"filter":"datum.k=='f'"}],"mark":{"type":"line","interpolate":"monotone","color":"#3DA556","strokeWidth":1.5},"encoding":{"y":{"field":"y","type":"quantitative","scale":{"domain":[0,11]},"axis":null},"x":{"field":"x","type":"quantitative","scale":{"domain":[0,9]},"axis":{"orient":"top","title":"Fatty acid","labels":false,"domain":false,"values":[0,1,2,3,4,5,6,7,8,9],"tickSize":-4,"titleColor":"#3AA85A","titleFontWeight":"bold","titleX":141,"titlePadding":14}}}}
]},
{"width":306,"height":90,"data":{"name":"R4"},"resolve":{"axis":{"x":"independent","y":"independent"}},
"encoding":{"x":{"field":"x","type":"quantitative","scale":{"domain":[0,8]},"axis":{"title":null,"labels":false,"values":[0,1,2,3,4,5,6,7,8],"tickSize":4}},"y":{"field":"y","type":"quantitative","scale":{"domain":[0,13]},"axis":{"title":null,"values":[0,4,8,12]}}},
"layer":[
{"transform":[{"filter":"datum.k=='b'"}],"mark":{"type":"bar","size":5.1,"color":"#A4C3F1"}},
{"transform":[{"filter":"datum.k!='b'&&datum.k!='f'"}],"mark":{"type":"line","interpolate":"monotone","color":"#7AA7DE","strokeWidth":1},"encoding":{"detail":{"field":"k"},"y":{"field":"y","type":"quantitative","scale":{"domain":[0,13]},"axis":{"orient":"left","title":null,"labels":false,"domain":false,"values":[2,6,10],"tickSize":3}}}},
{"transform":[{"filter":"datum.k=='f'"}],"mark":{"type":"line","interpolate":"monotone","color":"#3F80D9","strokeWidth":1.5},"encoding":{"y":{"field":"y","type":"quantitative","scale":{"domain":[0,13]},"axis":null},"x":{"field":"x","type":"quantitative","scale":{"domain":[0,8]},"axis":{"orient":"top","title":"Protein","labels":false,"domain":false,"values":[0,1,2,3,4,5,6,7,8],"tickSize":-4,"titleColor":"#3F86E0","titleFontWeight":"bold","titleX":142,"titlePadding":14}}}}
]},
{"width":308,"height":90,"data":{"name":"C6"},"title":{"text":"P6","orient":"left","frame":"group","offset":21},"resolve":{"axis":{"y":"independent"}},
"encoding":{"x":{"field":"x","type":"quantitative","scale":{"domain":[0,10]},"axis":{"title":null,"labels":false,"values":[0,1,2,3,4,5,6,7,8,9,10],"tickSize":4}},"y":{"field":"y","type":"quantitative","scale":{"domain":[0,13]},"axis":{"title":null,"values":[0,4,8,12]}}},
"layer":[
{"transform":[{"filter":"datum.k=='b'"}],"mark":{"type":"bar","size":5.2,"color":"#FBC38E"}},
{"transform":[{"filter":"datum.k!='b'&&datum.k!='f'"}],"mark":{"type":"line","interpolate":"monotone","color":"#7AA7DE","strokeWidth":1},"encoding":{"detail":{"field":"k"},"y":{"field":"y","type":"quantitative","scale":{"domain":[0,13]},"axis":{"orient":"left","title":null,"labels":false,"domain":false,"values":[2,6,10],"tickSize":3}}}},
{"transform":[{"filter":"datum.k=='f'"}],"mark":{"type":"line","interpolate":"monotone","color":"#EE8A2E","strokeWidth":1.5},"encoding":{"y":{"field":"y","type":"quantitative","scale":{"domain":[0,13]},"axis":null}}}
]},
{"width":306,"height":90,"data":{"name":"F6"},"resolve":{"axis":{"y":"independent"}},
"encoding":{"x":{"field":"x","type":"quantitative","scale":{"domain":[0,9]},"axis":{"title":null,"labels":false,"values":[0,1,2,3,4,5,6,7,8,9],"tickSize":4}},"y":{"field":"y","type":"quantitative","scale":{"domain":[0,11]},"axis":{"title":null,"values":[0,5,10]}}},
"layer":[
{"transform":[{"filter":"datum.k=='b'"}],"mark":{"type":"bar","size":5.8,"color":"#A8DA9C"}},
{"transform":[{"filter":"datum.k!='b'&&datum.k!='f'"}],"mark":{"type":"line","interpolate":"monotone","color":"#7AA7DE","strokeWidth":1},"encoding":{"detail":{"field":"k"},"y":{"field":"y","type":"quantitative","scale":{"domain":[0,11]},"axis":{"orient":"left","title":null,"labels":false,"domain":false,"values":[2.5,7.5],"tickSize":3}}}},
{"transform":[{"filter":"datum.k=='f'"}],"mark":{"type":"line","interpolate":"monotone","color":"#3DA556","strokeWidth":1.5},"encoding":{"y":{"field":"y","type":"quantitative","scale":{"domain":[0,11]},"axis":null}}}
]},
{"width":306,"height":90,"data":{"name":"R6"},"resolve":{"axis":{"y":"independent"}},
"encoding":{"x":{"field":"x","type":"quantitative","scale":{"domain":[0,8]},"axis":{"title":null,"labels":false,"values":[0,1,2,3,4,5,6,7,8],"tickSize":4}},"y":{"field":"y","type":"quantitative","scale":{"domain":[0,9]},"axis":{"title":null,"values":[0,4,8]}}},
"layer":[
{"transform":[{"filter":"datum.k=='b'"}],"mark":{"type":"bar","size":5.1,"color":"#A4C3F1"}},
{"transform":[{"filter":"datum.k!='b'&&datum.k!='f'"}],"mark":{"type":"line","interpolate":"monotone","color":"#7AA7DE","strokeWidth":1},"encoding":{"detail":{"field":"k"},"y":{"field":"y","type":"quantitative","scale":{"domain":[0,9]},"axis":{"orient":"left","title":null,"labels":false,"domain":false,"values":[2,6],"tickSize":3}}}},
{"transform":[{"filter":"datum.k=='f'"}],"mark":{"type":"line","interpolate":"monotone","color":"#3F80D9","strokeWidth":1.5},"encoding":{"y":{"field":"y","type":"quantitative","scale":{"domain":[0,9]},"axis":null}}}
]},
{"width":308,"height":90,"data":{"name":"C8"},"title":{"text":"P8","orient":"left","frame":"group","offset":7},"resolve":{"axis":{"y":"independent"}},
"encoding":{"x":{"field":"x","type":"quantitative","scale":{"domain":[0,10]},"axis":{"title":null,"labels":false,"values":[0,1,2,3,4,5,6,7,8,9,10],"tickSize":4}},"y":{"field":"y","type":"quantitative","scale":{"domain":[0,9]},"axis":{"title":"Relative Frequency %","titlePadding":2,"values":[0,4,8]}}},
"layer":[
{"transform":[{"filter":"datum.k=='b'"}],"mark":{"type":"bar","size":5.2,"color":"#FBC38E"}},
{"transform":[{"filter":"datum.k!='b'&&datum.k!='f'"}],"mark":{"type":"line","interpolate":"monotone","color":"#7AA7DE","strokeWidth":1},"encoding":{"detail":{"field":"k"},"y":{"field":"y","type":"quantitative","scale":{"domain":[0,9]},"axis":{"orient":"left","title":null,"labels":false,"domain":false,"values":[2,6],"tickSize":3}}}},
{"transform":[{"filter":"datum.k=='f'"}],"mark":{"type":"line","interpolate":"monotone","color":"#EE8A2E","strokeWidth":1.5},"encoding":{"y":{"field":"y","type":"quantitative","scale":{"domain":[0,9]},"axis":null}}}
]},
{"width":306,"height":90,"data":{"name":"F8"},"resolve":{"axis":{"y":"independent"}},
"encoding":{"x":{"field":"x","type":"quantitative","scale":{"domain":[0,9]},"axis":{"title":null,"labels":false,"values":[0,1,2,3,4,5,6,7,8,9],"tickSize":4}},"y":{"field":"y","type":"quantitative","scale":{"domain":[0,11]},"axis":{"title":"Relative Frequency %","titlePadding":2,"values":[0,5,10]}}},
"layer":[
{"transform":[{"filter":"datum.k=='b'"}],"mark":{"type":"bar","size":5.8,"color":"#A8DA9C"}},
{"transform":[{"filter":"datum.k!='b'&&datum.k!='f'"}],"mark":{"type":"line","interpolate":"monotone","color":"#7AA7DE","strokeWidth":1},"encoding":{"detail":{"field":"k"},"y":{"field":"y","type":"quantitative","scale":{"domain":[0,11]},"axis":{"orient":"left","title":null,"labels":false,"domain":false,"values":[2.5,7.5],"tickSize":3}}}},
{"transform":[{"filter":"datum.k=='f'"}],"mark":{"type":"line","interpolate":"monotone","color":"#3DA556","strokeWidth":1.5},"encoding":{"y":{"field":"y","type":"quantitative","scale":{"domain":[0,11]},"axis":null}}}
]},
{"width":306,"height":90,"data":{"name":"R8"},"resolve":{"axis":{"y":"independent"}},
"encoding":{"x":{"field":"x","type":"quantitative","scale":{"domain":[0,8]},"axis":{"title":null,"labels":false,"values":[0,1,2,3,4,5,6,7,8],"tickSize":4}},"y":{"field":"y","type":"quantitative","scale":{"domain":[0,9]},"axis":{"title":"Relative Frequency %","titlePadding":2,"values":[0,4,8]}}},
"layer":[
{"transform":[{"filter":"datum.k=='b'"}],"mark":{"type":"bar","size":5.1,"color":"#A4C3F1"}},
{"transform":[{"filter":"datum.k!='b'&&datum.k!='f'"}],"mark":{"type":"line","interpolate":"monotone","color":"#7AA7DE","strokeWidth":1},"encoding":{"detail":{"field":"k"},"y":{"field":"y","type":"quantitative","scale":{"domain":[0,9]},"axis":{"orient":"left","title":null,"labels":false,"domain":false,"values":[2,6],"tickSize":3}}}},
{"transform":[{"filter":"datum.k=='f'"}],"mark":{"type":"line","interpolate":"monotone","color":"#3F80D9","strokeWidth":1.5},"encoding":{"y":{"field":"y","type":"quantitative","scale":{"domain":[0,9]},"axis":null}}}
]},
{"width":308,"height":90,"data":{"name":"C11"},"title":{"text":"P11","orient":"left","frame":"group","offset":29},"resolve":{"axis":{"y":"independent"}},
"encoding":{"x":{"field":"x","type":"quantitative","scale":{"domain":[0,10]},"axis":{"title":null,"labels":false,"values":[0,1,2,3,4,5,6,7,8,9,10],"tickSize":4}},"y":{"field":"y","type":"quantitative","scale":{"domain":[0,9.3]},"axis":{"title":null,"values":[0,4,8]}}},
"layer":[
{"transform":[{"filter":"datum.k=='b'"}],"mark":{"type":"bar","size":5.2,"color":"#FBC38E"}},
{"transform":[{"filter":"datum.k!='b'&&datum.k!='f'"}],"mark":{"type":"line","interpolate":"monotone","color":"#7AA7DE","strokeWidth":1},"encoding":{"detail":{"field":"k"},"y":{"field":"y","type":"quantitative","scale":{"domain":[0,9.3]},"axis":{"orient":"left","title":null,"labels":false,"domain":false,"values":[2,6],"tickSize":3}}}},
{"transform":[{"filter":"datum.k=='f'"}],"mark":{"type":"line","interpolate":"monotone","color":"#EE8A2E","strokeWidth":1.5},"encoding":{"y":{"field":"y","type":"quantitative","scale":{"domain":[0,9.3]},"axis":null}}}
]},
{"width":306,"height":90,"data":{"name":"F11"},"resolve":{"axis":{"y":"independent"}},
"encoding":{"x":{"field":"x","type":"quantitative","scale":{"domain":[0,9]},"axis":{"title":null,"labels":false,"values":[0,1,2,3,4,5,6,7,8,9],"tickSize":4}},"y":{"field":"y","type":"quantitative","scale":{"domain":[0,8.5]},"axis":{"title":null,"values":[0,5]}}},
"layer":[
{"transform":[{"filter":"datum.k=='b'"}],"mark":{"type":"bar","size":5.8,"color":"#A8DA9C"}},
{"transform":[{"filter":"datum.k!='b'&&datum.k!='f'"}],"mark":{"type":"line","interpolate":"monotone","color":"#7AA7DE","strokeWidth":1},"encoding":{"detail":{"field":"k"},"y":{"field":"y","type":"quantitative","scale":{"domain":[0,8.5]},"axis":{"orient":"left","title":null,"labels":false,"domain":false,"values":[2.5,7.5],"tickSize":3}}}},
{"transform":[{"filter":"datum.k=='f'"}],"mark":{"type":"line","interpolate":"monotone","color":"#3DA556","strokeWidth":1.5},"encoding":{"y":{"field":"y","type":"quantitative","scale":{"domain":[0,8.5]},"axis":null}}}
]},
{"width":306,"height":90,"data":{"name":"R11"},"resolve":{"axis":{"y":"independent"}},
"encoding":{"x":{"field":"x","type":"quantitative","scale":{"domain":[0,8]},"axis":{"title":null,"labels":false,"values":[0,1,2,3,4,5,6,7,8],"tickSize":4}},"y":{"field":"y","type":"quantitative","scale":{"domain":[0,7]},"axis":{"title":null,"values":[0,4]}}},
"layer":[
{"transform":[{"filter":"datum.k=='b'"}],"mark":{"type":"bar","size":5.1,"color":"#A4C3F1"}},
{"transform":[{"filter":"datum.k!='b'&&datum.k!='f'"}],"mark":{"type":"line","interpolate":"monotone","color":"#7AA7DE","strokeWidth":1},"encoding":{"detail":{"field":"k"},"y":{"field":"y","type":"quantitative","scale":{"domain":[0,7]},"axis":{"orient":"left","title":null,"labels":false,"domain":false,"values":[2,6],"tickSize":3}}}},
{"transform":[{"filter":"datum.k=='f'"}],"mark":{"type":"line","interpolate":"monotone","color":"#3F80D9","strokeWidth":1.5},"encoding":{"y":{"field":"y","type":"quantitative","scale":{"domain":[0,7]},"axis":null}}}
]},
{"width":308,"height":90,"data":{"name":"C14"},"title":{"text":"P14","orient":"left","frame":"group","offset":29},"resolve":{"axis":{"y":"independent"}},
"encoding":{"x":{"field":"x","type":"quantitative","scale":{"domain":[0,10]},"axis":{"title":"Cellular Heterogeneity","values":[0,1,2,3,4,5,6,7,8,9,10],"labelExpr":"datum.value % 2 === 0 ? datum.label : ''","tickSize":5,"titleX":128}},"y":{"field":"y","type":"quantitative","scale":{"domain":[0,9]},"axis":{"title":null,"values":[0,4,8]}}},
"layer":[
{"transform":[{"filter":"datum.k=='b'"}],"mark":{"type":"bar","size":5.2,"color":"#FBC38E"}},
{"transform":[{"filter":"datum.k!='b'&&datum.k!='f'"}],"mark":{"type":"line","interpolate":"monotone","color":"#7AA7DE","strokeWidth":1},"encoding":{"detail":{"field":"k"},"y":{"field":"y","type":"quantitative","scale":{"domain":[0,9]},"axis":{"orient":"left","title":null,"labels":false,"domain":false,"values":[2,6],"tickSize":3}}}},
{"transform":[{"filter":"datum.k=='f'"}],"mark":{"type":"line","interpolate":"monotone","color":"#EE8A2E","strokeWidth":1.5},"encoding":{"y":{"field":"y","type":"quantitative","scale":{"domain":[0,9]},"axis":null}}}
]},
{"width":306,"height":90,"data":{"name":"F14"},"resolve":{"axis":{"y":"independent"}},
"encoding":{"x":{"field":"x","type":"quantitative","scale":{"domain":[0,9]},"axis":{"title":"Cellular Heterogeneity","values":[0,1,2,3,4,5,6,7,8,9],"labelExpr":"datum.value % 2 === 0 ? datum.label : ''","tickSize":5,"titleX":165}},"y":{"field":"y","type":"quantitative","scale":{"domain":[0,8]},"axis":{"title":null,"values":[0,5]}}},
"layer":[
{"transform":[{"filter":"datum.k=='b'"}],"mark":{"type":"bar","size":5.8,"color":"#A8DA9C"}},
{"transform":[{"filter":"datum.k!='b'&&datum.k!='f'"}],"mark":{"type":"line","interpolate":"monotone","color":"#7AA7DE","strokeWidth":1},"encoding":{"detail":{"field":"k"},"y":{"field":"y","type":"quantitative","scale":{"domain":[0,8]},"axis":{"orient":"left","title":null,"labels":false,"domain":false,"values":[2.5,7.5],"tickSize":3}}}},
{"transform":[{"filter":"datum.k=='f'"}],"mark":{"type":"line","interpolate":"monotone","color":"#3DA556","strokeWidth":1.5},"encoding":{"y":{"field":"y","type":"quantitative","scale":{"domain":[0,8]},"axis":null}}}
]},
{"width":306,"height":90,"data":{"name":"R14"},"resolve":{"axis":{"y":"independent"}},
"encoding":{"x":{"field":"x","type":"quantitative","scale":{"domain":[0,8]},"axis":{"title":"Cellular Heterogeneity","values":[0,1,2,3,4,5,6,7,8],"labelExpr":"datum.value % 2 === 0 ? datum.label : ''","tickSize":5,"titleX":157}},"y":{"field":"y","type":"quantitative","scale":{"domain":[0,7]},"axis":{"title":null,"values":[0,4]}}},
"layer":[
{"transform":[{"filter":"datum.k=='b'"}],"mark":{"type":"bar","size":5.1,"color":"#A4C3F1"}},
{"transform":[{"filter":"datum.k!='b'&&datum.k!='f'"}],"mark":{"type":"line","interpolate":"monotone","color":"#7AA7DE","strokeWidth":1},"encoding":{"detail":{"field":"k"},"y":{"field":"y","type":"quantitative","scale":{"domain":[0,7]},"axis":{"orient":"left","title":null,"labels":false,"domain":false,"values":[2,6],"tickSize":3}}}},
{"transform":[{"filter":"datum.k=='f'"}],"mark":{"type":"line","interpolate":"monotone","color":"#3F80D9","strokeWidth":1.5},"encoding":{"y":{"field":"y","type":"quantitative","scale":{"domain":[0,7]},"axis":null}}}
]}
],
"config":{
"view":{"stroke":"#222","strokeWidth":1},
"axis":{"labelFont":"Liberation Sans","titleFont":"Liberation Sans","labelFontSize":14,"titleFontSize":18,"titleFontWeight":"normal","labelColor":"#111","titleColor":"#111","tickColor":"#222","domainColor":"#222","grid":false,"labelFlush":false,"labelOverlap":false,"tickSize":5,"labelPadding":2,"titlePadding":4},
"title":{"font":"Liberation Sans","fontSize":17,"fontWeight":"bold","color":"#111"}
}
}
